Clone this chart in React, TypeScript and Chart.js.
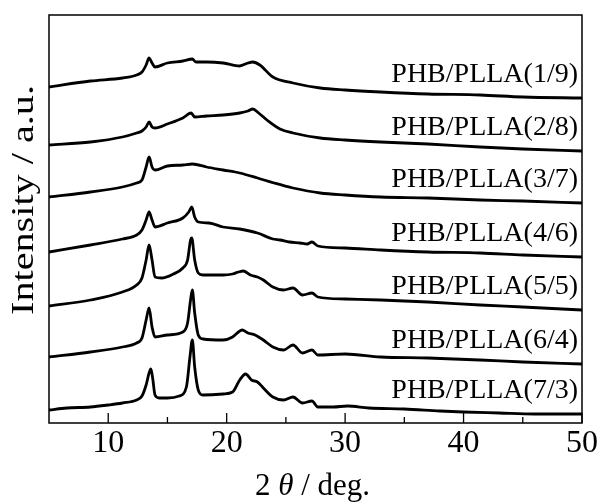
import React, { useEffect, useRef } from 'react';
import { Chart, registerables } from 'chart.js';

Chart.register(...registerables);

const FONT = "'Liberation Serif', 'Times New Roman', serif";

const sampleLabels = [
  'PHB/PLLA(1/9)',
  'PHB/PLLA(2/8)',
  'PHB/PLLA(3/7)',
  'PHB/PLLA(4/6)',
  'PHB/PLLA(5/5)',
  'PHB/PLLA(6/4)',
  'PHB/PLLA(7/3)',
];

const majorTicks = [10, 20, 30, 40, 50];
const minorTicks = [15, 25, 35, 45];

// [2theta, intensity (a.u., stacked)]
const s19: [number, number][] = [
  [5, 336], [8.5, 342], [11.2, 345], [12.4, 348], [12.85, 351], [13.2, 358], [13.45, 365], [13.7, 360],
  [13.95, 356], [15, 360], [16.3, 362], [17.1, 364], [17.4, 361], [18.3, 361], [19.7, 360], [21.1, 357],
  [21.8, 360], [22.2, 361], [22.8, 358], [23.9, 346], [25.6, 340], [27.9, 335], [30, 333], [33, 331],
  [37, 329], [41.4, 328], [45, 326], [50, 325],
];
const s28: [number, number][] = [
  [5, 278], [8.5, 281], [11.2, 286], [12.4, 290], [12.85, 292], [13.2, 296], [13.45, 301], [13.7, 296],
  [13.95, 295], [15, 299], [16.3, 305], [17, 310], [17.3, 306], [18.3, 307], [19.7, 308], [21.1, 310],
  [21.8, 312], [22.2, 314], [22.7, 310], [23.4, 303], [24.5, 294], [25.6, 290], [27.9, 285], [30, 283],
  [33, 281], [37, 279], [41.4, 276], [45, 274], [50, 272],
];
const s37: [number, number][] = [
  [5, 226], [8.5, 231], [11.2, 236], [12.4, 240], [12.85, 243], [13.2, 256], [13.45, 266], [13.7, 256],
  [13.95, 253], [15, 257], [16.3, 258], [17.1, 259], [18.3, 256], [19.7, 253], [21.1, 250], [22.6, 245],
  [24, 240], [25.6, 235], [27.9, 230], [30, 228], [33, 226], [37, 225], [41.4, 223], [45, 222], [50, 220],
];
const s46: [number, number][] = [
  [5, 171], [8.5, 178], [11.2, 184], [12.4, 188], [12.85, 193], [13.2, 203], [13.45, 211], [13.7, 203],
  [13.95, 196], [15, 200], [16.3, 205], [16.8, 211], [17.05, 216], [17.3, 206], [17.6, 201], [18.5, 200],
  [19.7, 196], [21.1, 194], [22.6, 190], [23.9, 184], [24.5, 183], [25.3, 181], [26.2, 180], [26.8, 179],
  [27.2, 181], [27.7, 177], [30, 175], [33, 173], [37, 171], [41.4, 170], [45, 168], [50, 166],
];
const s55: [number, number][] = [
  [5, 117], [8.5, 123], [11.2, 131], [12.4, 138], [12.85, 145], [13.2, 163], [13.45, 178], [13.7, 163],
  [13.95, 146], [14.5, 145], [15.5, 149], [16.3, 155], [16.7, 163], [16.95, 183], [17.05, 185], [17.3, 163],
  [17.6, 150], [18, 148], [19.7, 148], [20.5, 149], [21, 151], [21.4, 152], [22, 148], [22.6, 146],
  [23.1, 143], [23.9, 136], [24.8, 133], [25.6, 135], [26.4, 128], [27.2, 130], [27.7, 126], [30, 124],
  [33, 123], [37, 121], [41.4, 118], [45, 116], [50, 113],
];
const s64: [number, number][] = [
  [5, 66], [8.5, 71], [11.2, 76], [12.4, 80], [12.85, 85], [13.2, 103], [13.45, 115], [13.7, 96],
  [13.95, 86], [15, 88], [16.3, 91], [16.7, 100], [16.95, 123], [17.1, 133], [17.3, 110], [17.6, 88],
  [18, 84], [19.7, 83], [20.5, 86], [21, 91], [21.3, 93], [21.8, 90], [22.4, 88], [23.1, 83],
  [23.9, 76], [24.8, 73], [25.6, 78], [26.4, 70], [27.2, 73], [27.7, 68], [30, 69], [33, 66],
  [37, 65], [41.4, 63], [45, 61], [50, 59],
];
const s73: [number, number][] = [
  [5, 13], [6.5, 15], [8.5, 16], [10, 18], [11.2, 20], [12.4, 23], [12.85, 27], [13.2, 38],
  [13.45, 50], [13.6, 54], [13.75, 45], [13.95, 28], [14.3, 25], [15, 25], [16, 27], [16.6, 36],
  [16.9, 66], [17.1, 83], [17.3, 56], [17.6, 33], [18, 28], [19.7, 29], [20.5, 31], [21.1, 43],
  [21.6, 49], [22.1, 43], [22.6, 41], [23.1, 35], [23.9, 26], [24.8, 23], [25.6, 26], [26.4, 20],
  [27.2, 22], [27.7, 16], [29, 16], [30.2, 17], [32, 15], [35, 14], [38, 12], [40, 11],
  [43, 10], [46, 9], [50, 9],
];

const seriesList = [s19, s28, s37, s46, s55, s64, s73];

const decorPlugin = {
  id: 'decor',
  afterDraw(chart: any) {
    const { ctx, chartArea } = chart;
    const { left, right, top, bottom } = chartArea;
    const xs = chart.scales.x;
    const ys = chart.scales.y;
    ctx.save();
    ctx.strokeStyle = '#000';
    ctx.lineWidth = 1.5;
    ctx.strokeRect(left, top, right - left, bottom - top);
    ctx.lineWidth = 1.3;
    ctx.beginPath();
    majorTicks.forEach((v) => {
      const px = xs.getPixelForValue(v);
      ctx.moveTo(px, bottom);
      ctx.lineTo(px, bottom - 10);
    });
    minorTicks.forEach((v) => {
      const px = xs.getPixelForValue(v);
      ctx.moveTo(px, bottom);
      ctx.lineTo(px, bottom - 6);
    });
    ctx.stroke();

    // sample labels
    ctx.fillStyle = '#000';
    ctx.font = `28px ${FONT}`;
    ctx.textAlign = 'right';
    ctx.textBaseline = 'alphabetic';
    seriesList.forEach((s, i) => {
      const last = s[s.length - 1];
      const py = ys.getPixelForValue(last[1]) - 16;
      ctx.fillText(sampleLabels[i], right - 4, py);
    });

    // x title: 2 θ / deg.
    const parts = [
      { t: '2 ', f: `31px ${FONT}` },
      { t: 'θ', f: `italic 31px ${FONT}` },
      { t: ' / deg.', f: `31px ${FONT}` },
    ];
    let total = 0;
    parts.forEach((p) => {
      ctx.font = p.f;
      total += ctx.measureText(p.t).width;
    });
    let x = (left + right) / 2 - total / 2 - 3;
    ctx.textAlign = 'left';
    parts.forEach((p) => {
      ctx.font = p.f;
      ctx.fillText(p.t, x, 495);
      x += ctx.measureText(p.t).width;
    });

    // y title
    ctx.save();
    ctx.translate(33, 200);
    ctx.rotate(-Math.PI / 2);
    ctx.font = `31px ${FONT}`;
    const yt = 'Intensity / a.u.';
    const w = ctx.measureText(yt).width;
    ctx.scale(230 / w, 1);
    ctx.textAlign = 'center';
    ctx.fillText(yt, 0, 0);
    ctx.restore();
    ctx.restore();
  },
};

export default function App() {
  const ref = useRef<HTMLCanvasElement | null>(null);
  useEffect(() => {
    if (!ref.current) return;
    const chart = new Chart(ref.current, {
      type: 'line',
      data: {
        datasets: seriesList.map((s, i) => ({
          label: sampleLabels[i],
          data: s.map(([x, y]) => ({ x, y })),
          borderColor: '#000',
          borderWidth: 2.8,
          pointRadius: 0,
          fill: false,
          cubicInterpolationMode: 'monotone' as const,
        })),
      },
      options: {
        animation: false,
        responsive: true,
        maintainAspectRatio: false,
        layout: { padding: { left: 49, right: 17, top: 15, bottom: 40.6 } },
        plugins: { legend: { display: false }, tooltip: { enabled: false } },
        scales: {
          x: {
            type: 'linear',
            min: 5,
            max: 50,
            grid: { display: false, drawTicks: false },
            border: { display: false },
            ticks: {
              stepSize: 10,
              includeBounds: false,
              color: '#000',
              padding: 1,
              font: { family: FONT, size: 32, lineHeight: 1.2 },
              maxRotation: 0,
            },
          },
          y: { display: false, min: 0, max: 408 },
        },
      },
      plugins: [decorPlugin],
    });
    return () => chart.destroy();
  }, []);
  return (
    <div style={{ position: 'fixed', left: 0, top: 0, width: 599, height: 504, background: '#fff' }}>
      <canvas ref={ref} />
    </div>
  );
}
